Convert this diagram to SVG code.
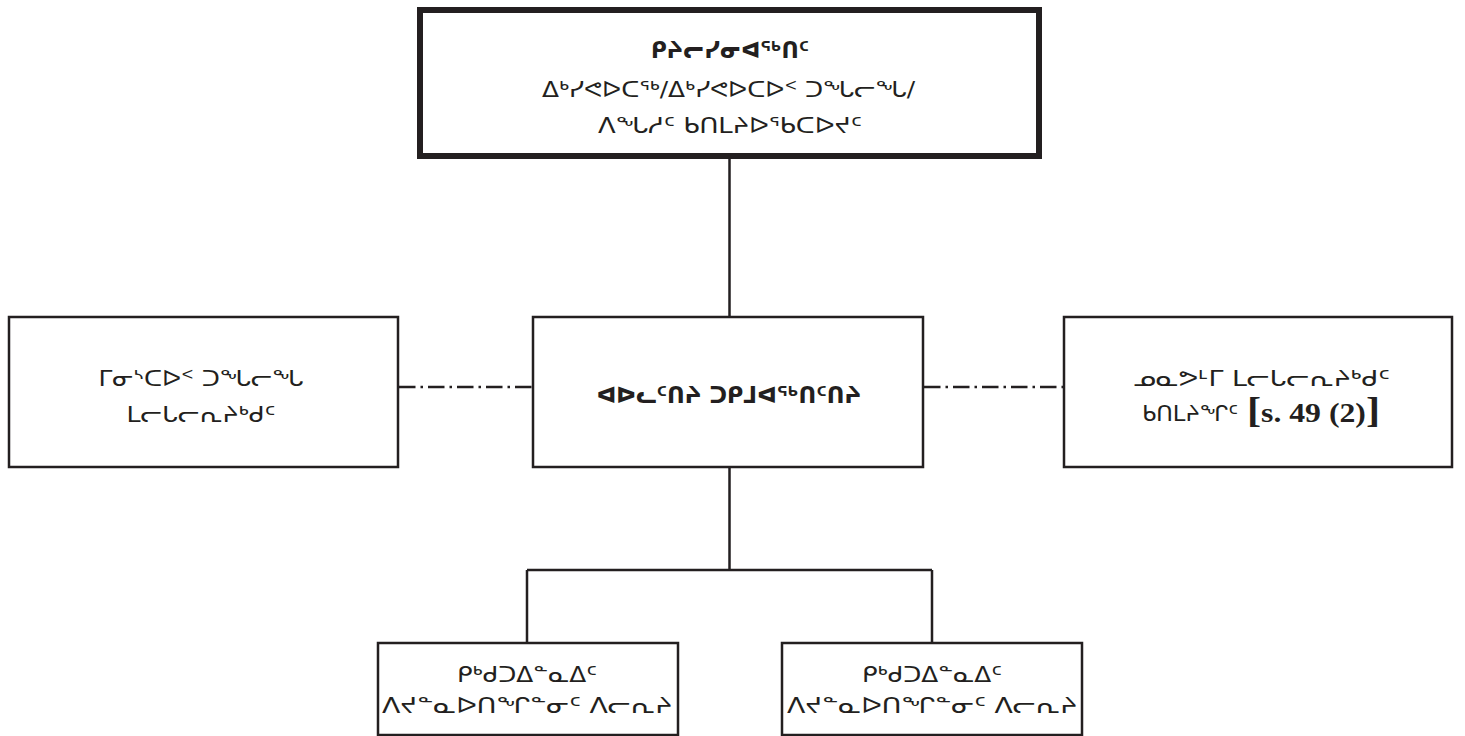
<svg xmlns="http://www.w3.org/2000/svg" width="1465" height="736" viewBox="0 0 1465 736">
<style>
.box{fill:#fff;stroke:#231f20;stroke-width:2.5}
.top{stroke-width:6}
.conn{fill:none;stroke:#231f20;stroke-width:2.5}
.dash{stroke-dasharray:16.5 5 2.5 5}
.t{font-family:"DejaVu Sans",sans-serif;font-size:22px;fill:#231f20;text-anchor:middle}
.b{font-weight:bold}
.s{text-anchor:start}
.sf{font-family:"Liberation Serif",serif;font-weight:bold;font-size:27px;fill:#231f20}
.br{font-size:36px}
</style>
<rect width="1465" height="736" fill="#fff"/>
<g id="connectors">
<path class="conn" d="M729.5 159V317M729.5 467V570M527 570H932M527 570V643M932 570V643"/>
<path class="conn dash" d="M399 387H532M924 387H1063"/>
</g>
<g id="board">
<rect class="box top" x="420" y="10" width="619" height="146"/>
<text class="t b" x="730" y="58" textLength="158" lengthAdjust="spacingAndGlyphs">ᑭᔨᓕᓯᓂᐊᖅᑎᑦ</text>
<text class="t" x="728.5" y="97" textLength="373" lengthAdjust="spacingAndGlyphs">ᐃᒃᓯᕙᐅᑕᖅ/ᐃᒃᓯᕙᐅᑕᐅᑉ ᑐᖓᓕᖓ/</text>
<text class="t" x="730" y="133" textLength="264" lengthAdjust="spacingAndGlyphs">ᐱᖓᓱᑦ ᑲᑎᒪᔨᐅᖃᑕᐅᔪᑦ</text>
</g>
<g id="deputy">
<rect class="box" x="9" y="317" width="389" height="150"/>
<text class="t" x="201" y="386" textLength="205" lengthAdjust="spacingAndGlyphs">ᒥᓂᔅᑕᐅᑉ ᑐᖓᓕᖓ</text>
<text class="t" x="201" y="422" textLength="149" lengthAdjust="spacingAndGlyphs">ᒪᓕᒐᓕᕆᔨᒃᑯᑦ</text>
</g>
<g id="director">
<rect class="box" x="533" y="317" width="390" height="150"/>
<text class="t b" x="729" y="403" textLength="265" lengthAdjust="spacingAndGlyphs">ᐊᐅᓚᑦᑎᔨ ᑐᑭᒧᐊᖅᑎᑦᑎᔨ</text>
</g>
<g id="court">
<rect class="box" x="1064" y="317" width="388" height="150"/>
<text class="t" x="1261.5" y="386" textLength="257" lengthAdjust="spacingAndGlyphs">ᓄᓇᕗᒻᒥ ᒪᓕᒐᓕᕆᔨᒃᑯᑦ</text>
<text class="t s" x="1142" y="421" textLength="96" lengthAdjust="spacingAndGlyphs">ᑲᑎᒪᔨᖏᑦ</text>
<text class="sf" x="1247" y="422" textLength="133" lengthAdjust="spacingAndGlyphs"><tspan class="br">[</tspan>s. 49 (2)<tspan class="br">]</tspan></text>
</g>
<g id="staff1">
<rect class="box" x="378" y="643" width="300" height="92"/>
<text class="t" x="527" y="682" textLength="140" lengthAdjust="spacingAndGlyphs">ᑭᒃᑯᑐᐃᓐᓇᐃᑦ</text>
<text class="t" x="527" y="713" textLength="290" lengthAdjust="spacingAndGlyphs">ᐱᔪᓐᓇᐅᑎᖏᓐᓂᑦ ᐱᓕᕆᔨ</text>
</g>
<g id="staff2">
<rect class="box" x="782" y="643" width="300" height="92"/>
<text class="t" x="932" y="682" textLength="140" lengthAdjust="spacingAndGlyphs">ᑭᒃᑯᑐᐃᓐᓇᐃᑦ</text>
<text class="t" x="932" y="713" textLength="290" lengthAdjust="spacingAndGlyphs">ᐱᔪᓐᓇᐅᑎᖏᓐᓂᑦ ᐱᓕᕆᔨ</text>
</g>
</svg>
